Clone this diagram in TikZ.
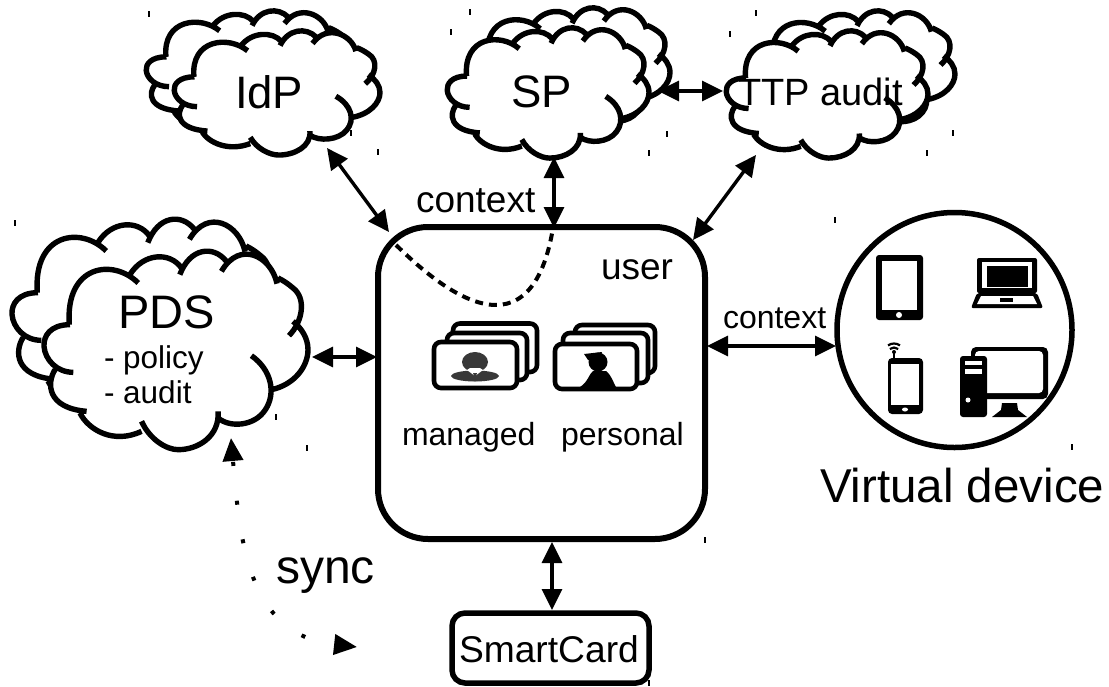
\documentclass[tikz,border=0pt]{standalone}
\usepackage{fontspec}
\setmainfont{Liberation Sans}
\usetikzlibrary{arrows.meta}
\newcommand{\cloudpath}[1]{
  (210,345) .. controls (150,345) and (130,380) .. (132,410) .. controls (135,450) and (170,488) .. (220,488) #1
  (165,480) .. controls (140,520) and (140,595) .. (260,605) #1
  (240,610) .. controls (265,660) and (340,705) .. (425,665) #1
  (425,635) .. controls (450,690) and (500,720) .. (535,720) .. controls (595,720) and (660,680) .. (655,605) #1
  (655,625) .. controls (690,655) and (765,650) .. (797,600) .. controls (830,550) and (815,480) .. (755,438) #1
  (815,540) .. controls (885,525) and (925,470) .. (925,420) .. controls (925,385) and (905,355) .. (880,335) #1
  (868,378) .. controls (910,335) and (920,265) .. (880,235) .. controls (865,222) and (850,212) .. (835,205) #1
  (832,222) .. controls (815,140) and (720,90) .. (665,185) #1
  (680,155) .. controls (640,105) and (570,115) .. (540,195) #1
  (545,175) .. controls (510,125) and (430,130) .. (390,195) #1
  (415,220) .. controls (340,145) and (195,165) .. (208,345)
}
\newcommand{\cloudshape}[4]{%
  \pgfmathsetmacro{\csx}{#3/790}\pgfmathsetmacro{\csy}{#4/585}%
  \pgfmathsetmacro{\cox}{#1-135*\csx}\pgfmathsetmacro{\coy}{#2-130*\csy}%
  \begin{scope}[shift={(\cox,\coy)},xscale=\csx,yscale=\csy]
    \fill[white] \cloudpath{--};
    \draw[cloudline] \cloudpath{};
  \end{scope}}
\newcommand{\fsz}[1]{\fontsize{#1}{#1}\selectfont}
\tikzset{
  cloudline/.style={line width=5.4pt,black},
  cardline/.style={line width=4.6pt,black,fill=white,rounded corners=7pt},
  biarrow/.style={line width=3.4pt,{Triangle[length=21pt,width=20pt]}-{Triangle[length=21pt,width=20pt]}},
  label/.style={anchor=base west,inner sep=0pt,outer sep=0pt,text=black},
  mark tick/.style={fill=black},
  bk/.style={fill=black},
  wh/.style={fill=white}
}
\begin{document}
\begin{tikzpicture}[x=1pt,y=-1pt]
\useasboundingbox (0,0) rectangle (1109,686);
\fill[white] (0,0) rectangle (1109,686);

% clouds
\cloudshape{147}{12}{205}{122}
\cloudshape{175}{32}{205}{122}
\cloudshape{469}{9}{201}{128}
\cloudshape{448}{29}{201}{128}
\cloudshape{754}{12}{201}{125}
\cloudshape{727}{32}{201}{125}
\cloudshape{13}{221}{263}{195}
\cloudshape{45}{253}{263}{195}

% main shapes
\node[draw,line width=6pt,rounded corners=50pt,minimum width=327pt,minimum height=312pt,inner sep=0pt,outer sep=0pt] (user) at (541.5,383) {};
\node[draw,line width=5.5pt,rounded corners=13pt,minimum width=197pt,minimum height=70pt,inner sep=0pt,outer sep=0pt] (card) at (550.5,648) {};
\node[draw,circle,line width=5.5pt,minimum size=235pt,inner sep=0pt,outer sep=0pt] (vdev) at (954.5,330) {};

% connector ends
\coordinate (idpS) at (327,148);
\coordinate (userNW) at (389,232);
\coordinate (spS) at (554,157);
\coordinate (userN) at (554,228);
\coordinate (spE) at (658,91);
\coordinate (ttpW) at (723,91);
\coordinate (ttpS) at (756,155);
\coordinate (userNE) at (693,240);
\coordinate (pdsE) at (312,357);
\coordinate (userW) at (377,357);
\coordinate (userE) at (707,346);
\coordinate (vdevW) at (836,346);
\coordinate (userS) at (552,542);
\coordinate (cardN) at (552,610);
\coordinate (pdsS) at (231,438);
\coordinate (syncEnd) at (357,647);
\coordinate (ctxA) at (396,245);
\coordinate (ctxB) at (553,228);

\draw[biarrow] (idpS) -- (userNW);
\draw[biarrow] (spS) -- (userN);
\draw[biarrow] (spE) -- (ttpW);
\draw[biarrow] (ttpS) -- (userNE);
\draw[biarrow] (pdsE) -- (userW);
\draw[biarrow] (userE) -- (vdevW);
\draw[biarrow] (userS) -- (cardN);
\draw[line width=4pt,dash pattern=on 8pt off 6pt] (ctxA) .. controls (429,277) and (529,371) .. (ctxB);
\draw[line width=4pt,dash pattern=on 4pt off 35pt,dash phase=37pt,{Triangle[length=23pt,width=20pt]}-{Triangle[length=23pt,width=20pt]}] (pdsS) .. controls (240,540) and (247,635) .. (syncEnd);

% card stacks: managed
\draw[cardline] (453,323.5) rectangle (537,372);
\draw[cardline] (447,333) rectangle (527,380);
\draw[cardline] (434,342) rectangle (517,388);
\fill[black!78] (475,362) ellipse (13pt and 10pt);
\fill[black!78] (470,368) rectangle (480,376);
\fill[black!78] (475,376) ellipse (24pt and 5.5pt);
\fill[white] (467,370) -- (475,376) -- (483,370) -- (480,368) -- (470,368) -- cycle;
\fill[black!78] (473,373) -- (477,373) -- (476,376) -- (477.5,381) -- (472.5,381) -- (474,376) -- cycle;

% card stacks: personal
\draw[cardline] (575,325) rectangle (655,373);
\draw[cardline] (563,333) rectangle (648,383);
\draw[cardline] (555,344) rectangle (637,389);
\begin{scope}
\clip (557,346) rectangle (635,387);
\fill[black] (598,362) circle (9.5pt);
\fill[black] (584,354) -- (602,352) -- (598,362) -- (588,360) -- cycle;
\fill[black] (580,387) .. controls (588,382) and (589,374) .. (593,371) -- (606,371) .. controls (612,376) and (613,382) .. (616,387) -- cycle;
\end{scope}

% tablet
\fill[bk,rounded corners=3pt] (876,255) rectangle (923,320);
\fill[wh] (882,261) rectangle (917,310);
\fill[wh] (899,315) circle (3pt);
% laptop
\fill[bk,rounded corners=2pt] (977,258) rectangle (1037,293);
\fill[wh] (982,262) rectangle (1032,288);
\fill[bk] (987,266) rectangle (1028,287);
\fill[bk,rounded corners=2pt] (977,293) -- (1037,293) -- (1043,308) -- (971,308) -- cycle;
\fill[wh] (981,296) -- (1033,296) -- (1037,304) -- (977,304) -- cycle;
\fill[bk] (1000,298) rectangle (1013,302);
% phone
\fill[bk,rounded corners=4pt] (888,358) rectangle (923,414);
\fill[wh] (891,364) rectangle (919,405);
\fill[wh] (905,409.5) ellipse (3pt and 2pt);
\draw[line width=2pt] (894,352) -- (894,358);
\fill[bk] (894,352) circle (2pt);
\draw[line width=2.2pt] (894,354) ++(-130:6.5) arc (-130:-50:6.5);
\draw[line width=2.2pt] (894,354) ++(-125:10.5) arc (-125:-55:10.5);
% desktop
\fill[bk,rounded corners=5pt] (971,347) rectangle (1048,399);
\fill[wh,rounded corners=4pt] (975,351) rectangle (1043,393);
\fill[bk,rounded corners=3pt] (960,356) rectangle (987,417);
\fill[wh] (965,361) rectangle (982,365);
\fill[wh] (965,369) rectangle (982,374);
\fill[wh] (968,400) circle (2.5pt);
\fill[bk] (1002,403) -- (1017,403) -- (1018,410) -- (1027,417) -- (992,417) -- (1001,410) -- cycle;

% labels
\node[label] (tIdp) at (235,108) {\fsz{45.5}IdP};
\node[label] (tSp) at (511,107) {\fsz{45.5}SP};
\node[label] (tTtp) at (738,105) {\fsz{38}TTP audit};
\node[label] (tCtx1) at (416,212) {\fsz{37}context};
\node[label] (tUser) at (601,279) {\fsz{37}user};
\node[label] (tMan) at (402,445) {\fsz{32}managed};
\node[label] (tPer) at (561,445) {\fsz{32}personal};
\node[label] (tPds) at (118,328) {\fsz{47}PDS};
\node[label] (tPol) at (104,368) {\fsz{31.5}- policy};
\node[label] (tAud) at (104,403) {\fsz{31.5}- audit};
\node[label] (tCtx2) at (723,328) {\fsz{32}context};
\node[label] (tVd) at (820,502) {\fsz{47.5}Virtual device};
\node[label] (tSync) at (276,583) {\fsz{48}sync};
\node[label] (tCard) at (459,662) {\fsz{37.2}SmartCard};

% small ticks
\foreach \tx/\ty in {149/14,470/12,451/32,351/133,378/152,756/13,730/34,667/134,649/153,953/133,927/153,835/220,15/223,276/417,307/448,1072/447,649/683,705/540}
  \fill[mark tick] (\tx-0.8,\ty-3) rectangle (\tx+0.8,\ty+3);
\end{tikzpicture}
\end{document}
